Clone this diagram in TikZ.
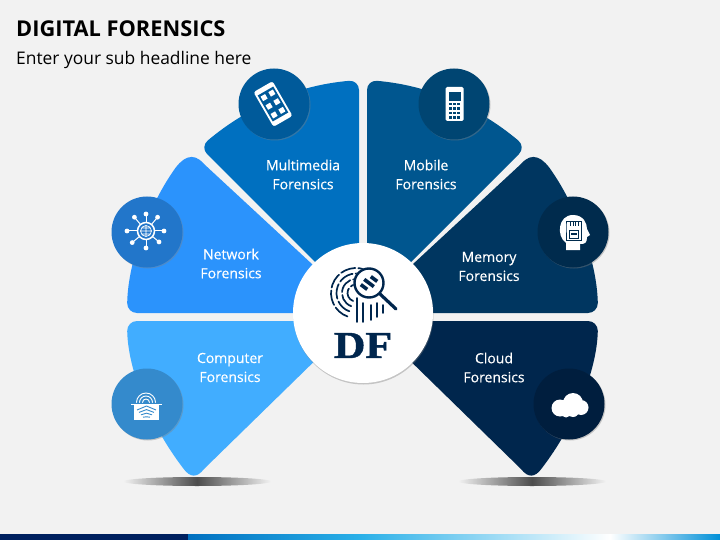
\documentclass[tikz,border=0pt]{standalone}
\usepackage{fontspec}
\newfontfamily\headfont{Open Sans}
\newfontfamily\labelfont[FakeBold=0.3]{Open Sans}
\newfontfamily\dffont[FakeStretch=1.15,FakeBold=1.2]{Liberation Serif}
\usetikzlibrary{shadows,shapes.geometric}
\definecolor{pagebg}{HTML}{F2F2F2}
\definecolor{navy}{HTML}{00264D}
\definecolor{multimediac}{HTML}{0070C0}
\definecolor{networkc}{HTML}{2B93FC}
\definecolor{computerc}{HTML}{41ADFF}
\definecolor{mobilec}{HTML}{00568F}
\definecolor{memoryc}{HTML}{003660}
\definecolor{cloudc}{HTML}{00264D}
\definecolor{bandA}{HTML}{00205F}
\definecolor{bandB}{HTML}{0070C0}
\definecolor{bandC}{HTML}{2AB0E8}
\definecolor{bandD}{HTML}{0090D8}
\newcommand{\petalTop}{(359,300) -- (359,80) .. controls (300,85) and (250,105) .. (200,147) -- (359,306) -- cycle}
\newcommand{\petalMid}{[rounded corners=10pt] (330,313) -- (127,313) [rounded corners=0pt] .. controls (128,260) and (150,205) .. (172,173) .. controls (182,157) and (193,151) .. (204,164) -- (340,290) -- cycle}
\newcommand{\petalLow}{[rounded corners=10pt] (330,321) -- (127,321) [rounded corners=0pt] .. controls (128,370) and (150,425) .. (183,468) .. controls (190,478) and (197,478) .. (204,469) -- (330,346) -- cycle}
\tikzset{
  petal/.style={rounded corners=10pt},
  iconball/.style={circle,minimum size=71pt,inner sep=0pt,drop shadow={shadow xshift=1pt,shadow yshift=-1pt,opacity=.4}},
  petaltext/.style={text=white,align=center,font=\labelfont\fontsize{14}{19}\selectfont},
  ground/.style={ellipse,minimum width=148pt,minimum height=9pt,inner sep=0pt,left color=pagebg,right color=pagebg,middle color=black!70},
  print/.style={draw=navy,line width=1.7pt,line cap=round},
  fineprint/.style={draw=white,line width=.9pt,line cap=round}
}
\begin{document}
\begin{tikzpicture}[x=1pt,y=-1pt]
\useasboundingbox (0,0) rectangle (720,540);
\fill[pagebg] (0,0) rectangle (720,540);

\node[anchor=west,inner sep=0pt,font=\headfont\bfseries\fontsize{21.8}{24}\selectfont] (title) at (16,29) {DIGITAL FORENSICS};
\node[anchor=west,inner sep=0pt,font=\headfont\fontsize{17.4}{20}\selectfont] (subtitle) at (16,60) {Enter your sub headline here};

% bottom band
\fill[bandA] (0,534) rectangle (188,540);
\fill[left color=bandB,right color=bandC] (188,534) rectangle (360,540);
\fill[left color=bandC,right color=white] (360,534) rectangle (610,540);
\fill[left color=white,right color=bandD] (610,534) rectangle (720,540);

\node[ground] (shadeL) at (197,481.5) {};
\node[ground] (shadeR) at (532,481.5) {};

% petals
\fill[multimediac,petal] \petalTop;
\fill[networkc] \petalMid;
\fill[computerc] \petalLow;
\begin{scope}[shift={(726,0)},xscale=-1]
\fill[mobilec,petal] \petalTop;
\end{scope}
\begin{scope}[shift={(725,0)},xscale=-1]
\fill[memoryc] \petalMid;
\fill[cloudc] \petalLow;
\end{scope}

\node[petaltext] (multimedia) at (303,174.5) {Multimedia\\Forensics};
\node[petaltext] (network) at (231,263.5) {Network\\Forensics};
\node[petaltext] (computer) at (230,367.5) {Computer\\Forensics};
\node[petaltext] (mobile) at (426,174.5) {Mobile\\Forensics};
\node[petaltext] (memory) at (489,266.5) {Memory\\Forensics};
\node[petaltext] (cloud) at (494,367.5) {Cloud\\Forensics};

\node[iconball,fill=multimediac!80!black] (ballA) at (274,104) {};
\node[iconball,fill=networkc!80!black] (ballB) at (147,232) {};
\node[iconball,fill=computerc!80!black] (ballC) at (147,404) {};
\node[iconball,fill=mobilec!80!black] (ballD) at (454,104) {};
\node[iconball,fill=memoryc!80!black] (ballE) at (573,232) {};
\node[iconball,fill=cloudc!80!black] (ballF) at (569,404) {};

% tablet
\begin{scope}[shift={(273,104)},rotate=30]
\fill[white,rounded corners=2.5pt] (-11,-20) rectangle (11,20);
\fill[multimediac!80!black] (-9,-15) rectangle (9,15);
\foreach \i in {-10,0,10} \foreach \j in {-4.5,4.5}
  \fill[white] (\j-2.6,\i-2.6) rectangle (\j+2.6,\i+2.6);
\end{scope}

% phone
\fill[white,rounded corners=1.5pt] (445.5,87) rectangle (463.5,121);
\fill[mobilec!80!black] (448.5,92) rectangle (460.5,101);
\foreach \i in {104,108.5,113,117.5} \foreach \j in {450.5,454.5,458.5}
  \fill[mobilec!80!black] (\j-1.4,\i-1.4) rectangle (\j+1.4,\i+1.4);

% network globe
\foreach \a/\r in {90/17,40/17,0/18,-50/18,-90/17,-130/18,180/19,140/18} {
  \draw[white,line width=1pt] (146,231) -- ++(\a:\r);
  \fill[white] (146,231) ++(\a:\r) circle (2.4);
}
\fill[networkc!80!black,draw=white,line width=1.5pt] (146,231) circle (8.5);
\draw[white,line width=.7pt] (146,231) circle (5.5) (140.5,231) -- (151.5,231) (141.5,228) -- (150.5,228) (141.5,234) -- (150.5,234) (146,225.5) -- (146,236.5);

% head with card
\fill[white] (566,250) -- (566,243) .. controls (556,236) and (558,215) .. (573,215) .. controls (584,215) and (587,224) .. (587,229) -- (590,235) -- (587,237) .. controls (587,243) and (585,244) .. (580,244) -- (580,250) -- cycle;
\draw[memoryc!80!black,line width=.8pt] (566,221) -- (581,221) -- (581,240) -- (566,240) -- (566,225) -- cycle;
\foreach \j in {570.5,573,575.5,578} \draw[memoryc!80!black,line width=.6pt] (\j,222) -- (\j,226);
\draw[memoryc!80!black,line width=.8pt] (569,230) rectangle (578,238);
\fill[memoryc!80!black] (570.5,232.5) rectangle (576.5,235);

% fingerprint on scanner
\fill[white] (134,404) rectangle (159,420);
\draw[white,line width=1pt] (131,404) -- (162,404);
\foreach \r in {3.5,6.5,9.5}
  \draw[fineprint] (146-\r,402.5) arc[start angle=180,end angle=360,radius=\r];
\foreach \i in {0,4,8,12}
  \draw[computerc!80!black,line width=.9pt] (137+\i*.5,410+\i*.6) -- (146.5,406+\i*.9) -- (156-\i*.5,410+\i*.6);

% cloud
\fill[white] (573,403) circle (10) (560,408) circle (8.5) (581,407.5) circle (7.5) (566,412) circle (5.5) (573,411) circle (6);

% centre
\node[circle,fill=white,minimum size=140pt,inner sep=0pt,drop shadow={shadow xshift=.5pt,shadow yshift=-1.5pt,opacity=.4}] (hub) at (363,313) {};
\node[inner sep=0pt,text=navy,font=\dffont\bfseries\fontsize{38}{38}\selectfont] (df) at (363,345.5) {DF};
\foreach \r in {8.5,14,19.5,25}
  \draw[print,dash pattern=on 15pt off 3pt] (356,293) ++(110:\r) arc[start angle=110,end angle=340,radius=\r];
\foreach \x/\y/\z in {357/298/322,363/303/322,371/305/320,377/303/317,383/305/313}
  \draw[print] (\x,\y) -- (\x,\z);
\fill[white] (369,283) circle (15.5);
\draw[navy,line width=2.4pt] (369,283) circle (14.5);
\draw[navy,line width=3.2pt,line cap=round] (380,294) -- (396,309);
\foreach \u/\v/\l in {-5/4/4,0/0/6,5/-4/4}
  \draw[navy,line width=3.6pt] (369+\u-\l*.8,283+\v-\l*.6) -- (369+\u+\l*.8,283+\v+\l*.6);
\end{tikzpicture}
\end{document}
